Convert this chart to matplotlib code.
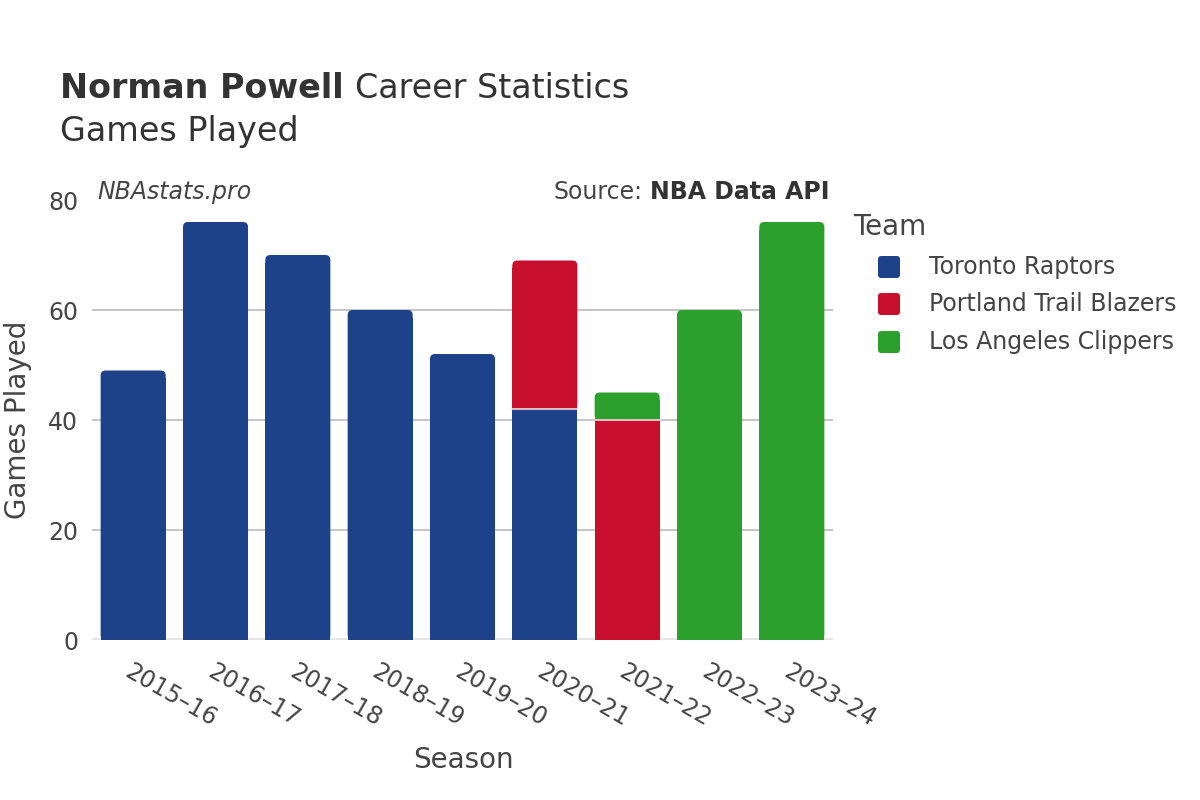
import matplotlib
matplotlib.use("Agg")
import matplotlib.pyplot as plt
from matplotlib.patches import FancyBboxPatch, Rectangle

# data
seasons = ["2015–16", "2016–17", "2017–18", "2018–19", "2019–20",
           "2020–21", "2021–22", "2022–23", "2023–24"]
teams = ["Toronto Raptors", "Portland Trail Blazers", "Los Angeles Clippers"]
toronto = [49, 76, 70, 60, 52, 42, 0, 0, 0]
portland = [0, 0, 0, 0, 0, 27, 40, 0, 0]
clippers = [0, 0, 0, 0, 0, 0, 5, 60, 76]
team_colors = ["#1d428a", "#c8102e", "#2ca02c"]

text_color = "#444444"
plt.rcParams['font.family'] = ['DejaVu Sans']

W, H = 1200, 800
fig = plt.figure(figsize=(12, 8), dpi=100)
ax = fig.add_axes([92 / W, 160 / H, 741 / W, 440 / H])

bar_w = 0.79
ax.set_xlim(-0.5, len(seasons) - 0.5)
ax.set_ylim(0, 80)

# px per data unit, used to keep the corner rounding circular
px_x = 741 / len(seasons)
px_y = 440 / 80
r_px = 5
rx = r_px / px_x
ry = r_px / px_y

series = [toronto, portland, clippers]
for i in range(len(seasons)):
    bottom = 0
    top_idx = max([k for k in range(3) if series[k][i] > 0])
    for k in range(3):
        v = series[k][i]
        if v <= 0:
            continue
        x0 = i - bar_w / 2
        if k == top_idx:
            # square lower part + rounded upper part
            ax.add_patch(Rectangle((x0, bottom), bar_w, v - ry * 1.5,
                                   facecolor=team_colors[k], edgecolor="none"))
            ax.add_patch(FancyBboxPatch((x0 + rx, bottom + ry), bar_w - 2 * rx, v - 2 * ry,
                                        boxstyle="round,pad=%f" % rx,
                                        mutation_aspect=ry / rx,
                                        facecolor=team_colors[k], edgecolor="none"))
        else:
            ax.add_patch(Rectangle((x0, bottom), bar_w, v,
                                   facecolor=team_colors[k], edgecolor="none"))
        if bottom > 0:
            ax.plot([x0, x0 + bar_w], [bottom, bottom], color="#f0d8dc", lw=1.2, zorder=3)
        bottom += v

# grid
for g in [20, 40, 60]:
    ax.axhline(g, color="#bbbbbb", lw=1.2, zorder=0)
ax.axhline(0, color="#e6e6e6", lw=3, zorder=0)

for s in ax.spines.values():
    s.set_visible(False)
ax.set_yticks([0, 20, 40, 60, 80])
ax.set_xticks(range(len(seasons)))
ax.set_xticklabels(seasons, rotation=-30, ha="left", rotation_mode="anchor")
ax.tick_params(axis="both", length=0, labelsize=17, colors=text_color)
ax.tick_params(axis="x", pad=14)
ax.tick_params(axis="y", pad=10)

fig.text(18 / W, 1 - 420 / H, "Games Played", fontsize=20, color=text_color,
         ha="center", va="center", rotation=90)
fig.text(463 / W, 1 - 760 / H, "Season", fontsize=20, color=text_color,
         ha="center", va="center")

# titles
fig.canvas.draw()
renderer = fig.canvas.get_renderer()
t1 = fig.text(60 / W, 1 - 88 / H, "Norman Powell", fontsize=24, fontweight="bold",
              color="#333333", va="center")
bb = t1.get_window_extent(renderer)
fig.text((bb.x1 + 11) / W, 1 - 88 / H, "Career Statistics", fontsize=24,
         color="#333333", va="center")
fig.text(60 / W, 1 - 132 / H, "Games Played", fontsize=24,
         color="#333333", va="center")
fig.text(97 / W, 1 - 192 / H, "NBAstats.pro", fontsize=17, style="italic",
         color=text_color, va="center")
t2 = fig.text(830 / W, 1 - 192 / H, "NBA Data API", fontsize=17, fontweight="bold",
              color="#333333", va="center", ha="right")
bb2 = t2.get_window_extent(renderer)
fig.text((bb2.x0 - 8) / W, 1 - 192 / H, "Source:", fontsize=17, color=text_color,
         va="center", ha="right")

# legend, drawn by hand to match spacing
fig.text(853 / W, 1 - 227 / H, "Team", fontsize=20, color=text_color, va="center")
rows_y = [267, 304, 342]
for name, c, y in zip(teams, team_colors, rows_y):
    fig.patches.append(FancyBboxPatch(((878 + 3) / W, 1 - (y + 8) / H), 16 / W, 16 / H,
                                      boxstyle="round,pad=%f" % (3 / W),
                                      mutation_aspect=W / H,
                                      facecolor=c, edgecolor="none",
                                      transform=fig.transFigure, figure=fig))
    fig.text(929 / W, 1 - y / H, name, fontsize=17, color=text_color, va="center")

fig.savefig("out.png", dpi=100, facecolor="white")
